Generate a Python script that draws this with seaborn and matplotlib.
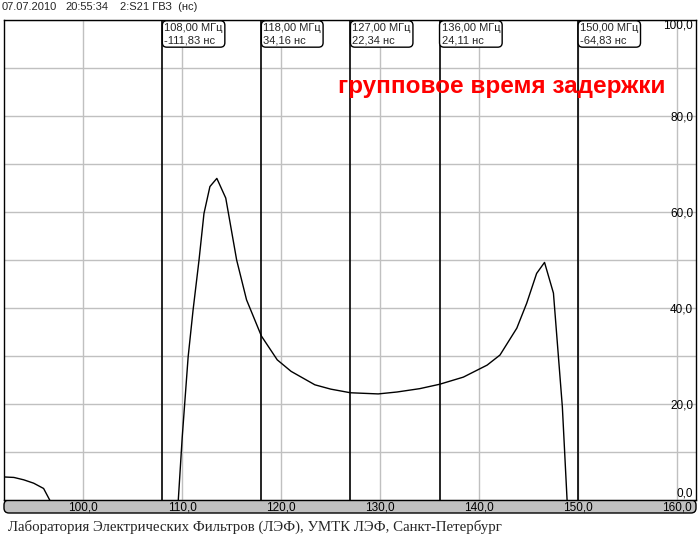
import matplotlib
matplotlib.use("Agg")
import matplotlib.pyplot as plt
from matplotlib.patches import FancyBboxPatch
from matplotlib.transforms import IdentityTransform
import seaborn as sns

# group delay trace (MHz, ns)
freq = [92, 93, 94, 95, 96, 97, 100, 104, 108, 109, 110, 110.6, 111.1, 111.7,
        112.2, 112.8, 113.5, 114.4, 115.5, 116.5, 118, 119.6, 121, 123.4, 125,
        127, 129.8, 131.7, 134, 136, 138.4, 140.8, 142.1, 143.8, 144.8, 145.8,
        146.6, 147.5, 148.4, 149, 150, 152, 156, 162]
delay = [4.8, 4.7, 4.2, 3.5, 2.4, -1.5, -40, -100, -111.83, -20, 13, 29.8, 39.6,
         50, 59.7, 65.3, 67.0, 62.9, 50, 41.7, 34.16, 29.2, 26.8, 24.0, 23.1,
         22.34, 22.1, 22.5, 23.2, 24.11, 25.6, 28.1, 30.2, 35.8, 41.0, 47.2,
         49.5, 43.1, 19.4, -5, -64.83, -100, -120, -130]

marker_freqs = [108.0, 118.0, 127.0, 136.0, 150.0]
marker_vals = [-111.83, 34.16, 22.34, 24.11, -64.83]

x_ticks = [100, 110, 120, 130, 140, 150, 160]
y_ticks = [0, 10, 20, 30, 40, 50, 60, 70, 80, 90, 100]


def comma(v, nd=1):
    return f"{v:.{nd}f}".replace(".", ",")


sns.set_style("white")
plt.rcParams["font.family"] = ["Liberation Sans", "DejaVu Sans"]

fig = plt.figure(figsize=(7, 5.57), dpi=100)
ax = fig.add_axes([4 / 700, 57 / 557, 692 / 700, 480 / 557])

sns.lineplot(x=freq, y=delay, ax=ax, color="black", lw=1, sort=False,
             estimator=None, zorder=3)

for m in marker_freqs:
    ax.axvline(m, color="black", lw=1.2, zorder=4)

ax.set_xlim(92, 161.9)
ax.set_ylim(0, 100)

ax.set_xticks(x_ticks, [comma(t) for t in x_ticks])
ax.tick_params(axis="x", length=0, pad=1.2, labelsize=8.5, colors="black")

ax.yaxis.tick_right()
ax.set_yticks(y_ticks, [comma(t) if t % 20 == 0 else "" for t in y_ticks])
ax.tick_params(axis="y", length=0, pad=-2, labelsize=8.5, colors="black")
for t, lbl in zip(y_ticks, ax.get_yticklabels()):
    lbl.set_ha("right")
    if t == 0:
        lbl.set_va("bottom")
    elif t == 100:
        lbl.set_va("top")

ax.grid(True, color="#c0c0c0", lw=1)
ax.set_axisbelow(True)
for s in ax.spines.values():
    s.set_color("black")
    s.set_linewidth(1)

# marker readouts
for m, v in zip(marker_freqs, marker_vals):
    txt = f"{comma(m, 2)} МГц\n{comma(v, 2)} нс"
    ax.annotate(txt, xy=(m, 100), xytext=(1.4, -2.0), textcoords="offset points",
                ha="left", va="top", fontsize=8, linespacing=1.3, zorder=6,
                bbox=dict(boxstyle="round,pad=0.18,rounding_size=0.4",
                          fc="white", ec="black", lw=1))

ax.text(125.7, 86.2, "групповое время задержки", color="#ff0000",
        fontsize=17.5, fontweight="bold", ha="left", va="center", zorder=6)

# grey x-axis strip
bar = FancyBboxPatch((4, 44), 692, 13, boxstyle="round,pad=0,rounding_size=5",
                     transform=IdentityTransform(), fc="#c0c0c0", ec="black",
                     lw=1, zorder=-1)
fig.patches.append(bar)

fig.text(2 / 700, 1 - 7 / 557, "07.07.2010", fontsize=8, va="center")
fig.text(65 / 700, 1 - 7 / 557, "20:55:34", fontsize=8, va="center")
fig.text(120 / 700, 1 - 7 / 557, "2:S21 ГВЗ  (нс)", fontsize=8, va="center")

fig.text(8 / 700, 1 - 527 / 557,
         "Лаборатория Электрических Фильтров (ЛЭФ), УМТК ЛЭФ, Санкт-Петербург",
         fontsize=10.7, family="Liberation Serif", va="center")

fig.savefig("out.png", dpi=100)
